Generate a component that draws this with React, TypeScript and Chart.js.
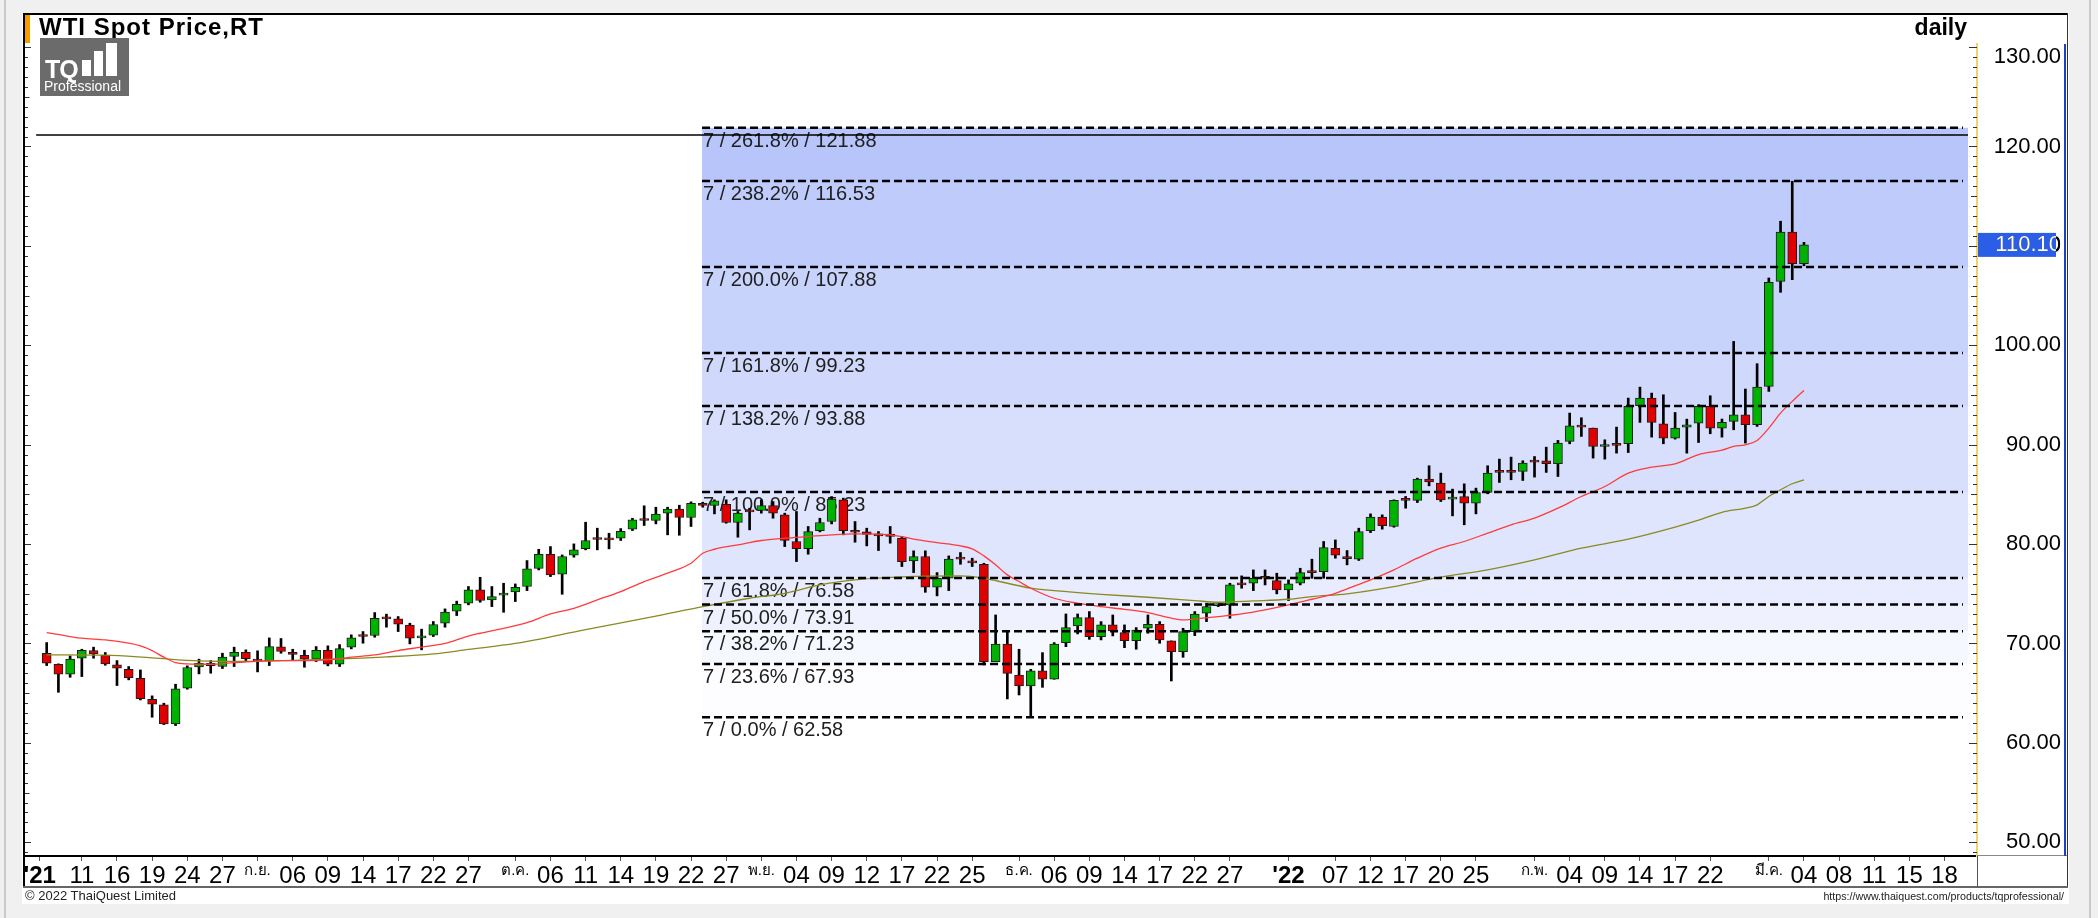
import React, { useEffect, useRef } from 'react';
import { Chart, registerables } from 'chart.js';

Chart.register(...registerables);

const FONT = '"Liberation Sans", Arial, "Noto Sans", sans-serif';
const NARROW = '"Liberation Sans Narrow", "Arial Narrow", "Liberation Sans", Arial, sans-serif';

// ---- candle data (index 0 = 6 Aug 2021 ... 150 = 4 Mar 2022) ----
const openP = [
  69.02, 67.91, 66.91, 68.52, 69.29, 68.82, 67.85, 67.41, 66.50, 64.39,
  63.82, 61.91, 65.50, 67.65, 68.01, 67.68, 68.69, 69.12, 68.42, 68.28,
  69.66, 69.12, 68.82, 68.42, 69.32, 67.91, 69.63, 70.73, 70.80, 72.54,
  72.48, 71.84, 70.56, 70.83, 72.04, 73.25, 74.05, 75.39, 74.38, 74.86,
  75.19, 75.73, 77.54, 78.98, 76.97, 78.88, 79.55, 80.52, 80.49, 80.59,
  81.50, 82.44, 82.37, 83.11, 83.51, 82.67, 84.11, 83.88, 84.01, 82.17,
  83.31, 83.38, 83.88, 82.94, 80.26, 79.55, 81.36, 82.27, 84.45, 81.26,
  81.23, 80.93, 81.00, 80.59, 78.31, 78.75, 75.66, 76.56, 78.54, 78.31,
  77.97, 68.17, 69.95, 66.83, 65.73, 67.24, 66.40, 70.09, 71.77, 72.60,
  70.69, 71.87, 71.10, 70.29, 71.53, 71.93, 70.26, 69.18, 71.20, 73.04,
  73.81, 73.88, 75.96, 76.06, 76.66, 76.33, 75.39, 76.06, 77.23, 77.23,
  79.58, 78.75, 78.48, 81.36, 82.71, 81.77, 84.45, 84.39, 86.53, 86.13,
  84.52, 84.79, 84.12, 85.19, 87.31, 87.31, 87.31, 88.31, 88.38, 88.08,
  90.33, 91.94, 91.67, 89.82, 90.02, 90.09, 93.92, 94.69, 92.10, 90.66,
  91.77, 92.17, 93.85, 91.67, 92.34, 93.01, 92.01, 95.87, 106.43, 111.40,
  108.21,
];
const highP = [
  70.09, 67.95, 68.75, 69.42, 69.63, 69.09, 68.28, 67.68, 67.34, 64.73,
  63.99, 65.90, 67.75, 68.42, 68.28, 69.02, 69.63, 69.36, 69.26, 70.56,
  70.50, 69.42, 69.32, 69.69, 69.76, 69.89, 70.87, 71.20, 73.11, 72.95,
  72.71, 72.04, 71.44, 72.21, 73.48, 74.26, 75.73, 76.66, 75.73, 76.06,
  75.99, 78.34, 79.48, 79.75, 78.91, 80.02, 82.20, 81.60, 81.09, 81.56,
  82.60, 83.85, 83.71, 83.71, 83.91, 84.25, 84.21, 84.45, 84.45, 83.28,
  83.61, 84.45, 84.28, 83.11, 83.28, 81.77, 82.60, 84.78, 84.62, 82.27,
  81.60, 81.26, 81.77, 80.76, 79.32, 79.32, 77.13, 78.81, 79.15, 78.58,
  78.07, 72.87, 71.13, 69.42, 67.40, 69.08, 70.09, 72.97, 72.97, 73.21,
  72.20, 72.87, 71.87, 71.60, 72.87, 72.20, 70.26, 71.53, 73.21, 74.05,
  73.94, 76.06, 76.80, 77.40, 77.40, 77.07, 76.40, 77.57, 78.48, 80.26,
  80.42, 79.35, 81.60, 83.04, 82.94, 84.45, 84.79, 86.63, 87.88, 87.14,
  85.53, 86.06, 85.63, 87.88, 88.55, 88.75, 88.38, 88.81, 89.75, 90.43,
  93.18, 92.71, 91.67, 90.49, 91.77, 94.69, 95.79, 95.19, 95.02, 93.24,
  92.57, 94.02, 94.92, 92.58, 100.39, 95.60, 98.15, 106.77, 112.48, 116.50,
  110.36,
];
const lowP = [
  67.78, 65.09, 66.60, 66.67, 68.52, 67.81, 65.77, 66.34, 64.32, 62.58,
  61.84, 61.74, 65.40, 66.94, 67.01, 67.48, 67.68, 68.28, 67.14, 67.78,
  69.02, 68.35, 67.61, 68.18, 67.75, 67.68, 69.46, 70.03, 70.63, 71.64,
  71.20, 69.96, 69.36, 70.70, 71.64, 72.81, 73.89, 74.15, 73.71, 73.14,
  74.22, 75.32, 77.40, 76.73, 74.95, 78.68, 79.42, 79.42, 79.52, 80.36,
  81.36, 81.87, 82.03, 80.93, 80.89, 81.77, 83.71, 83.04, 82.10, 80.69,
  81.43, 83.11, 82.60, 79.75, 78.24, 78.98, 81.23, 82.03, 80.93, 80.19,
  79.82, 79.35, 80.09, 77.74, 77.13, 75.15, 74.79, 75.32, 77.97, 77.74,
  67.84, 68.17, 64.42, 64.82, 62.54, 65.59, 66.40, 69.68, 70.96, 70.42,
  70.36, 70.76, 69.58, 69.42, 71.03, 70.02, 66.23, 68.61, 70.79, 72.20,
  73.71, 72.54, 75.56, 75.32, 75.89, 74.99, 74.32, 75.89, 76.56, 76.56,
  78.58, 77.91, 78.35, 81.16, 81.50, 81.70, 83.61, 84.18, 85.86, 84.28,
  82.84, 81.94, 83.04, 85.06, 86.20, 86.47, 86.40, 86.74, 87.21, 86.80,
  90.09, 90.83, 88.65, 88.55, 89.15, 89.21, 92.24, 90.76, 90.09, 90.56,
  89.15, 90.22, 91.10, 90.76, 91.50, 90.16, 91.84, 95.36, 105.33, 106.60,
  108.00,
];
const closeP = [
  68.01, 66.91, 68.42, 69.32, 68.95, 67.95, 67.51, 66.57, 64.46, 63.89,
  61.91, 65.43, 67.58, 68.01, 67.78, 68.62, 69.12, 68.48, 68.22, 69.69,
  69.19, 68.89, 68.42, 69.32, 67.91, 69.49, 70.56, 70.70, 72.54, 72.48,
  71.94, 70.53, 70.73, 71.91, 73.15, 73.95, 75.40, 74.32, 74.72, 75.05,
  75.66, 77.50, 78.98, 76.90, 78.75, 79.42, 80.36, 80.46, 80.42, 81.29,
  82.44, 82.37, 83.01, 83.51, 82.67, 84.11, 83.88, 84.35, 82.17, 83.11,
  83.24, 83.88, 83.11, 80.36, 79.55, 81.26, 82.17, 84.52, 81.36, 81.19,
  80.96, 80.83, 80.76, 78.24, 78.75, 75.66, 76.56, 78.48, 78.48, 78.11,
  68.17, 69.95, 67.00, 65.73, 67.24, 66.40, 69.95, 71.60, 72.60, 70.69,
  71.87, 71.26, 70.29, 71.36, 71.93, 70.36, 69.18, 71.20, 72.97, 73.71,
  73.81, 75.89, 75.89, 76.56, 76.56, 75.39, 75.99, 77.13, 77.13, 79.65,
  78.88, 78.54, 81.27, 82.71, 81.84, 84.39, 84.39, 86.53, 86.26, 84.45,
  84.72, 84.12, 85.19, 87.14, 87.21, 87.21, 88.14, 88.24, 88.08, 90.16,
  91.90, 91.77, 89.82, 89.96, 89.93, 93.85, 94.69, 92.24, 90.66, 91.67,
  92.00, 93.85, 91.67, 92.24, 93.01, 92.01, 95.80, 106.33, 111.40, 108.21,
  110.10,
];

// ---- moving averages (candle index, value) ----
const maRedIdx = [0,2,3,5,7,8,9,10,11,12,14,16,18,20,22,24,26,28,30,32,34,36,37,39,41,43,45,47,49,51,53,55,56,57,59,61,63,65,67,69,71,73,74,76,78,79,80,81,82,83,84,86,88,90,92,94,96,97,98,100,102,104,106,108,110,111,113,115,117,119,121,123,125,127,129,131,133,135,137,139,141,143,144,145,146,147,148,149,150];
const maRedVal = [71.10,70.70,70.53,70.36,70.03,69.76,69.29,68.62,68.08,67.95,67.91,68.08,68.21,68.28,68.28,68.35,68.62,68.85,69.29,69.63,70.00,70.75,71.03,71.53,72.10,72.97,73.54,74.38,75.22,76.23,77.07,78.07,79.08,79.48,79.92,80.36,80.59,80.76,80.93,81.03,81.00,80.76,80.49,80.15,79.82,79.52,78.81,77.91,76.90,76.23,75.56,74.55,74.05,73.71,73.44,73.11,72.54,72.37,72.47,72.71,72.97,73.38,73.88,74.45,75.05,75.50,76.40,77.41,78.58,79.59,80.26,81.10,81.94,82.61,83.61,84.79,85.79,87.14,87.74,88.08,89.00,89.45,89.83,89.99,90.43,91.67,93.18,94.36,95.46];
const maOlvIdx = [0,5,9,13,17,21,25,29,33,36,40,46,52,56,60,63,66,69,74,78,80,82,84,86,90,94,98,100,103,106,108,111,115,119,123,127,131,135,139,141,143,145,146,147,148,149,150];
const maOlvVal = [68.85,68.82,68.55,68.25,68.20,68.30,68.45,68.65,68.95,69.40,70.00,71.40,72.75,73.70,74.55,75.05,75.90,76.40,76.75,76.80,76.56,76.06,75.56,75.32,74.95,74.65,74.32,74.15,74.28,74.45,74.72,75.00,75.73,76.67,77.41,78.41,79.59,80.49,81.70,82.40,83.20,83.62,83.95,84.79,85.46,86.07,86.47];

// ---- fibonacci levels ----
const fibLevels = [62.58, 67.93, 71.23, 73.91, 76.58, 85.23, 93.88, 99.23, 107.88, 116.53, 121.88];
const fibPcts = ['0.0%', '23.6%', '38.2%', '50.0%', '61.8%', '100.0%', '138.2%', '161.8%', '200.0%', '238.2%', '261.8%'];
const fibBandColors = ['#fdfdff', '#f6f8ff', '#eff2fe', '#e8ecfe', '#dfe5fd', '#d7dffd', '#d0d9fc', '#c8d3fc', '#bfccfb', '#b7c5fa'];
const fibStartIdx = 55.94;
const hLineValue = 121.15;
const hLineStartIdx = -0.9;

// ---- axes ----
const yTickVals = [50, 60, 70, 80, 90, 100, 110, 120, 130];
const xTickIdx = [-0.6,3,6,9,12,15,18,21,24,27,30,33,36,40,43,46,49,52,55,58,61,64,67,70,73,76,79,83,86,89,92,95,98,101,106,110,113,116,119,122,127,130,133,136,139,142,147,150,153,156,159,162];
const xTickLbl = ["'21","11","16","19","24","27","ก.ย.","06","09","14","17","22","27","ต.ค.","06","11","14","19","22","27","พ.ย.","04","09","12","17","22","25","ธ.ค.","06","09","14","17","22","27","'22","07","12","17","20","25","ก.พ.","04","09","14","17","22","มี.ค.","04","08","11","15","18"];
const X_MIN = -1.852;
const X_MAX = 164.77;
const Y_MIN = 48.62;
const Y_MAX = 130.31;

const GREEN = '#00b200';
const RED = '#e00000';

const decoPlugin = {
  id: 'deco',
  beforeDatasetsDraw(chart: any) {
    const { ctx, chartArea, scales } = chart;
    const xs = scales.x;
    const ys = scales.y;
    const x0 = xs.getPixelForValue(fibStartIdx);
    const x1 = chartArea.right - 9;
    ctx.save();
    for (let k = 0; k < fibLevels.length - 1; k++) {
      const yb = ys.getPixelForValue(fibLevels[k]);
      const yt = ys.getPixelForValue(fibLevels[k + 1]);
      ctx.fillStyle = fibBandColors[k];
      ctx.fillRect(x0, yt, x1 - x0, yb - yt);
    }
    ctx.font = `20px ${FONT}`;
    ctx.fillStyle = '#202020';
    ctx.textAlign = 'left';
    ctx.textBaseline = 'alphabetic';
    for (let k = 0; k < fibLevels.length; k++) {
      const yy = ys.getPixelForValue(fibLevels[k]);
      ctx.fillText(`7 / ${fibPcts[k]} / ${fibLevels[k].toFixed(2)}`, x0 + 1, yy + 19);
    }
    ctx.restore();
  },
  afterDatasetsDraw(chart: any) {
    const { ctx, chartArea, scales } = chart;
    const xs = scales.x;
    const ys = scales.y;
    const x0 = xs.getPixelForValue(fibStartIdx);
    const x1 = chartArea.right - 14;
    ctx.save();
    ctx.strokeStyle = '#000';
    ctx.lineWidth = 2.5;
    ctx.setLineDash([8, 4]);
    for (const v of fibLevels) {
      const yy = ys.getPixelForValue(v);
      ctx.beginPath();
      ctx.moveTo(x0, yy);
      ctx.lineTo(x1, yy);
      ctx.stroke();
    }
    ctx.setLineDash([]);
    ctx.lineWidth = 1.6;
    const hy = ys.getPixelForValue(hLineValue);
    ctx.beginPath();
    ctx.moveTo(xs.getPixelForValue(hLineStartIdx), hy);
    ctx.lineTo(chartArea.right - 9, hy);
    ctx.stroke();
    ctx.strokeStyle = '#333';
    ctx.lineWidth = 1;
    for (let v = Math.ceil(Y_MIN); v <= Y_MAX; v++) {
      const yy = Math.round(ys.getPixelForValue(v)) + 0.5;
      const lenL = v % 10 === 0 ? 6 : v % 5 === 0 ? 4.5 : 3;
      const lenR = v % 10 === 0 ? 8 : v % 5 === 0 ? 6 : 4;
      ctx.beginPath();
      ctx.moveTo(chartArea.left, yy);
      ctx.lineTo(chartArea.left + lenL, yy);
      ctx.moveTo(chartArea.right - lenR, yy);
      ctx.lineTo(chartArea.right, yy);
      ctx.stroke();
    }
    ctx.restore();
  },
  afterDraw(chart: any) {
    const { ctx, chartArea, scales } = chart;
    const ys = scales.y;
    const last = closeP[closeP.length - 1];
    const yy = ys.getPixelForValue(last);
    const bx0 = chartArea.right + 1;
    const bw = 78;
    ctx.save();
    ctx.fillStyle = '#2a5ee6';
    ctx.fillRect(bx0, yy - 12, bw, 24);
    ctx.font = `22px ${FONT}`;
    const tx = ys.right;
    ctx.textAlign = 'right';
    ctx.textBaseline = 'middle';
    ctx.fillStyle = '#000';
    ctx.fillText(last.toFixed(2), tx, yy);
    ctx.beginPath();
    ctx.rect(bx0, yy - 12, bw, 24);
    ctx.clip();
    ctx.fillStyle = '#fff';
    ctx.fillText(last.toFixed(2), tx, yy);
    ctx.restore();
  },
};

function buildConfig(): any {
  const bodyColors = openP.map((o, i) => (closeP[i] >= o ? GREEN : RED));
  const yTop = yTickVals[yTickVals.length - 1];
  return {
    type: 'bar',
    data: {
      datasets: [
        {
          type: 'line',
          label: 'MA red',
          data: maRedIdx.map((x, k) => ({ x, y: maRedVal[k] })),
          borderColor: '#ff3b3b',
          borderWidth: 1.3,
          pointRadius: 0,
          cubicInterpolationMode: 'monotone',
          order: 0,
        },
        {
          type: 'line',
          label: 'MA olive',
          data: maOlvIdx.map((x, k) => ({ x, y: maOlvVal[k] })),
          borderColor: '#8a8a22',
          borderWidth: 1.3,
          pointRadius: 0,
          cubicInterpolationMode: 'monotone',
          order: 0,
        },
        {
          type: 'bar',
          label: 'body',
          data: openP.map((o, i) => ({ x: i, y: [o, closeP[i]] })),
          backgroundColor: bodyColors,
          borderColor: '#1c1c1c',
          borderWidth: 1,
          borderSkipped: false,
          barThickness: 9,
          minBarLength: 2,
          grouped: false,
          order: 1,
        },
        {
          type: 'bar',
          label: 'wick',
          data: lowP.map((l, i) => ({ x: i, y: [l, highP[i]] })),
          backgroundColor: '#000',
          borderWidth: 0,
          barThickness: 2,
          grouped: false,
          order: 2,
        },
      ],
    },
    options: {
      responsive: false,
      maintainAspectRatio: false,
      animation: false,
      devicePixelRatio: 1,
      events: [],
      layout: { padding: { left: 25, right: 37, top: 44, bottom: 31 } },
      plugins: { legend: { display: false }, tooltip: { enabled: false }, title: { display: false } },
      scales: {
        x: {
          type: 'linear',
          min: X_MIN,
          max: X_MAX,
          offset: false,
          bounds: 'data',
          afterBuildTicks: (s: any) => {
            s.ticks = xTickIdx.map((v) => ({ value: v }));
          },
          afterFit: (s: any) => {
            s.height = 31;
          },
          ticks: {
            autoSkip: false,
            maxRotation: 0,
            minRotation: 0,
            padding: 1,
            color: '#000',
            font: (c: any) => {
              const lbl = xTickLbl[c.index] || '';
              if (lbl.startsWith("'")) return { size: 24, weight: 'bold', family: NARROW };
              if (/[\u0E00-\u0E7F]/.test(lbl)) return { size: 15, family: FONT };
              return { size: 24, family: NARROW };
            },
            callback: (_v: any, idx: number) => xTickLbl[idx],
          },
          grid: { display: true, drawOnChartArea: false, drawTicks: true, tickLength: 5, color: '#555', offset: false },
          border: { display: true, color: '#000', width: 2 },
        },
        y: {
          type: 'linear',
          position: 'right',
          min: Y_MIN,
          max: Y_MAX,
          bounds: 'data',
          afterBuildTicks: (s: any) => {
            s.ticks = yTickVals.map((v) => ({ value: v }));
          },
          afterFit: (s: any) => {
            s.width = 84;
          },
          ticks: {
            color: '#000',
            font: (c: any) => ({ size: 22, family: FONT, lineHeight: c.tick && c.tick.value === yTop ? '19px' : 1.2 }),
            padding: 8,
            crossAlign: 'far',
            callback: (v: any) => (Number(v) === yTop ? ['', Number(v).toFixed(2)] : Number(v).toFixed(2)),
          },
          grid: { display: false, drawTicks: false },
          border: { display: true, color: '#f0d36e', width: 2 },
        },
      },
    },
    plugins: [decoPlugin],
  };
}

const abs = (s: React.CSSProperties): React.CSSProperties => ({ position: 'absolute', ...s });

export default function App() {
  const ref = useRef<HTMLCanvasElement>(null);
  useEffect(() => {
    const canvas = ref.current;
    if (!canvas) return;
    const chart = new Chart(canvas, buildConfig());
    return () => chart.destroy();
  }, []);
  return (
    <div style={abs({ left: 0, top: 0, width: 2098, height: 918, background: '#f0f0f0', overflow: 'hidden', fontFamily: FONT })}>
      <div style={abs({ left: 4, top: 0, width: 2, height: 918, background: '#cacaca' })} />
      <div style={abs({ left: 2089, top: 0, width: 2, height: 918, background: '#cacaca' })} />
      <div style={abs({ left: 22, top: 13, width: 2047, height: 891, background: '#fff' })} />
      <canvas ref={ref} width={2098} height={918} style={abs({ left: 0, top: 0, width: 2098, height: 918 })} />
      {/* frame */}
      <div style={abs({ left: 23, top: 13, width: 2045, height: 2, background: '#000' })} />
      <div style={abs({ left: 23, top: 13, width: 2, height: 875, background: '#000' })} />
      <div style={abs({ left: 2067, top: 13, width: 1, height: 875, background: '#333' })} />
      <div style={abs({ left: 23, top: 886, width: 2045, height: 2, background: '#666' })} />
      <div style={abs({ left: 1977, top: 855, width: 90, height: 1, background: '#888' })} />
      <div style={abs({ left: 1977, top: 856, width: 1, height: 31, background: '#555' })} />
      <div style={abs({ left: 2064, top: 44, width: 2, height: 812, background: '#1e40c8' })} />
      {/* title */}
      <div style={abs({ left: 25, top: 15, width: 5, height: 28, background: '#f59b00' })} />
      <div style={abs({ left: 39, top: 14, font: `bold 24px ${FONT}`, letterSpacing: '1px', lineHeight: '26px', color: '#000', whiteSpace: 'nowrap' })}>WTI Spot Price,RT</div>
      <div style={abs({ right: 2098 - 1967, top: 14, font: `bold 23px ${FONT}`, lineHeight: '26px', color: '#000' })}>daily</div>
      {/* logo */}
      <div style={abs({ left: 40, top: 38, width: 89, height: 58, background: '#6b6b6b' })}>
        <div style={abs({ left: 5, top: 19, font: `bold 25px ${FONT}`, color: '#fff', lineHeight: '25px', letterSpacing: '-1px' })}>TQ</div>
        <div style={abs({ left: 42, top: 22, width: 9, height: 16, background: '#fff' })} />
        <div style={abs({ left: 54, top: 13, width: 9, height: 25, background: '#fff' })} />
        <div style={abs({ left: 66, top: 5, width: 11, height: 33, background: '#fff' })} />
        <div style={abs({ left: 4, top: 41, font: `14px ${FONT}`, color: '#fff', lineHeight: '15px', whiteSpace: 'nowrap' })}>Professional</div>
      </div>
      {/* footer */}
      <div style={abs({ left: 25, top: 888, font: `13px ${NARROW}`, color: '#222', lineHeight: '15px', whiteSpace: 'nowrap' })}>© 2022 ThaiQuest Limited</div>
      <div style={abs({ right: 2098 - 2064, top: 889, font: `10.7px ${NARROW}`, color: '#222', lineHeight: '14px', whiteSpace: 'nowrap' })}>https://www.thaiquest.com/products/tqprofessional/</div>
    </div>
  );
}
